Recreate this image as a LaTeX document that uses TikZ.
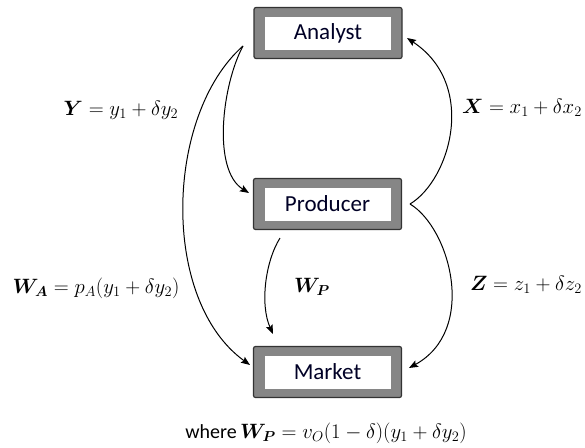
\documentclass[tikz,border=0pt]{standalone}
\usepackage{amsmath}
\usepackage{fontspec}
\setmainfont{Carlito}
\usetikzlibrary{arrows.meta}
\begin{document}
\begin{tikzpicture}[x=1pt,y=-1pt,
  outerbox/.style={draw=black!80,line width=1.2pt,fill=gray!95,rounded corners=2pt,minimum width=148pt,minimum height=51pt,inner sep=0pt},
  innerbox/.style={fill=white,minimum width=126pt,minimum height=33pt,inner sep=0pt,font=\fontsize{23}{26}\selectfont,text=black!85!blue},
  lbl/.style={font=\fontsize{20}{23}\selectfont,inner sep=0pt},
  arr/.style={line width=1pt,-{Stealth[length=9pt,width=7pt,inset=1.5pt]}}]
\useasboundingbox (0,0) rectangle (585,447);
\node[outerbox] (analyst) at (328,33) {};
\node[innerbox] (analystIn) at (analyst.center) {Analyst};
\node[outerbox] (producer) at (327.5,204) {};
\node[innerbox] (producerIn) at (producer.center) {Producer};
\node[outerbox] (market) at (327.5,372) {};
\node[innerbox] (marketIn) at (market.center) {Market};
\coordinate (aS) at (243,46);
\coordinate (pR) at (410,204);
\coordinate (pB) at (280,238);
\draw[arr] (aS) .. controls (222,85) and (212,170) .. (249,193);
\draw[arr] (aS) .. controls (165,115) and (160,300) .. (250,365);
\draw[arr] (pB) .. controls (265,262) and (260,305) .. (273,334);
\draw[arr] (pR) .. controls (450,180) and (478,85) .. (407,38);
\draw[arr] (pR) .. controls (450,228) and (478,330) .. (409,368);
\node[lbl] (ylbl) at (121,110) {$\boldsymbol{Y} = y_1 + \delta y_2$};
\node[lbl,anchor=east] (xlbl) at (582,108) {$\boldsymbol{X} = x_1 + \delta x_2$};
\node[lbl] (walbl) at (96,288) {$\boldsymbol{W_A} = p_A(y_1 + \delta y_2)$};
\node[lbl] (wplbl) at (312,287) {$\boldsymbol{W_P}$};
\node[lbl,anchor=east] (zlbl) at (582,285) {$\boldsymbol{Z} = z_1 + \delta z_2$};
\node[lbl] (where) at (326,433) {where\,$\boldsymbol{W_P} = v_O(1-\delta)(y_1 + \delta y_2)$};
\end{tikzpicture}
\end{document}
